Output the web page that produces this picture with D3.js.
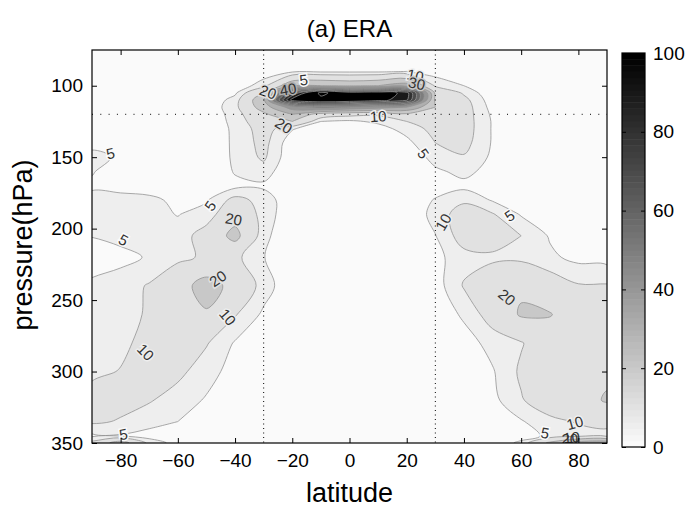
<!DOCTYPE html>
<html>
<head>
<meta charset="utf-8">
<script src="https://cdn.jsdelivr.net/npm/d3@7"></script>
<style>
  body { margin: 0; background: #fff; }
  svg { font-family: "Liberation Sans", Arial, Helvetica, sans-serif; }
</style>
</head>
<body>
<div id="chart"></div>
<script>

// grid of the field: one column per latitude, one row per pressure level
var lats = [-90, -80, -70, -60, -50, -40, -30, -20, -10, 0, 10, 20, 30, 40, 50, 60, 70, 80, 90];
var pLevels = [75, 90, 100, 105, 110, 115, 120, 125, 130, 140, 150, 160, 170, 180, 190, 205, 220, 240, 260, 280, 300, 320, 335, 345, 350];

// values (rows follow pLevels, columns follow lats)
var freq = [
  [0,0,0,0,0,0,0.5,1,1,1,1,1,0.5,0,0,0,0,0,0],
  [0,0,0,0,0,0,1.5,4,4,4,4,5,2.5,0.5,0,0,0,0,0],
  [0,0,0,0,0,1,8,28,30,28,30,35,9,5,0,0,0,0,0],
  [0,0,0,0,0.5,4,20,80,124,108,110,95,18,9,1,0,0,0,0],
  [0,0,0,0,1,7,28,105,115,112,105,92,18,12,2,0,0,0,0],
  [0,0,0,0,1.5,8,25,45,55,50,45,40,20,13,3,0,0,0,0],
  [0,0,0,0,1.5,7,18,30,15,12,11,18,15,13,4,0,0,0,0],
  [0,0,0,0,1.5,6.5,15,20,5,4,6,10,13,13,4.5,0,0,0,0],
  [0,0,0,0,1.5,6,13,5.5,2,1,3,7,12,13,4.5,0,0,0,0],
  [3,1,0,0,1,6,12,1.5,0,0,1,3.5,10,12,4.5,0,0,0,0],
  [7,4,0,0,0.5,6,11,1,0,0,0,1,7,9.5,4,0,0,0,0],
  [5.2,3.5,0,0,0,5.5,7.5,0.5,0,0,0,0.5,4,6.5,3,0,0,0,0],
  [4.5,4,4,3,2,3.5,4,0.5,0,0,0,0,2,3.5,1.5,0.5,0,0,0],
  [6,6,5.5,4.5,4.5,12,8,1,0,0,0,0.5,5.5,9,4.5,1,0.5,0,0],
  [7,7,6.5,4.8,7,16,8,1,0,0,0,0.5,7,13,10.5,4.5,1,0,0],
  [5.2,6.5,7,7,13,23,6.5,0.5,0,0,0,0.5,4.8,13,13,10,4.5,2,1],
  [2.5,3.5,5.5,8.5,11,11.5,5.2,0.5,0,0,0,0.5,3.5,8,9,8.5,6,3.5,3],
  [6,7.5,10.5,16,24,17,7.5,1,0,0,0,0.5,2.5,10.5,14,18.5,14,10.5,10.5],
  [7.5,8.5,10.5,14,19,10.5,4,0.5,0,0,0,0,1,6,13,21,20.5,15,14],
  [8,9,11.5,13,10.5,4.5,1.5,0,0,0,0,0,0.5,2.5,7,9.5,15,15,14],
  [9,10.2,12,11.5,7,3,0.5,0,0,0,0,0,0,1,4.5,11,16,16,18],
  [12,12,10.5,7.5,4.5,1.5,0,0,0,0,0,0,0,0.5,3.5,9.5,14,16,21],
  [11,9.5,7,5,2.5,0.5,0,0,0,0,0,0,0,0,1.5,4.5,8.5,10.5,12],
  [4,4.5,3,2,1,0,0,0,0,0,0,0,0,0,1,3,6,8,8],
  [12,25,8,3,1,0,0,0,0,0,0,0,0,0,2,6,22,35,38]
];

var contourLevels = [5, 10, 20, 30, 40, 50, 60, 70, 80, 90, 100, 120];

// inline contour labels: level, latitude, pressure, rotation, halo (1/0)
var labelSpots = [
  [5, -16, 96, -8, 1], [20, -28.5, 104.5, 20, 1], [40, -21.5, 102.5, -10, 1], [20, -23, 128, 32, 1],
  [10, 10, 121.5, -4, 1], [10, 23, 93, 12, 1], [30, 23.5, 98.5, 12, 1], [5, 25.8, 147.5, 55, 1],
  [5, -83.5, 147.5, -12, 1], [5, -48.6, 184, -55, 1], [5, -79, 208, 28, 1], [20, -40.5, 193.5, 10, 1],
  [20, -46, 235, -35, 1], [10, -42.6, 262, 50, 1], [10, -71.3, 286.5, 45, 1], [5, -79, 344, -10, 1],
  [10, 32.8, 195.5, -60, 1], [5, 56, 191, -35, 1], [20, 55, 248, 40, 1], [10, 78.8, 336, -15, 1],
  [5, 68.3, 343, 10, 1], [20, 77, 346.8, 0, 0], [10, 77.6, 346.2, -5, 0]
];

var xTicks = [-80, -60, -40, -20, 0, 20, 40, 60, 80];
var yTicks = [100, 150, 200, 250, 300, 350];
var cbTicks = [0, 20, 40, 60, 80, 100];

var W = 696, H = 508;
var plotL = 92, plotR = 607, plotT = 50, plotB = 443;

var svg = d3.select("#chart").append("svg")
    .attr("width", W)
    .attr("height", H);

var x = d3.scaleLinear().domain([-90, 90]).range([plotL, plotR]);
var y = d3.scaleLinear().domain([75, 350]).range([plotT, plotB]);

// grid index -> data coordinate (value i sits at i + 0.5 in contour space)
var colToLat = d3.scaleLinear().domain(d3.range(lats.length)).range(lats);
var rowToP = d3.scaleLinear().domain(d3.range(pLevels.length)).range(pLevels);

function shade(v) {
  var t = Math.max(0, Math.min(1, v / 100));
  return d3.interpolateRgb("#fafafa", "#000000")(t);
}

svg.append("clipPath").attr("id", "plotclip")
  .append("rect")
    .attr("x", plotL).attr("y", plotT)
    .attr("width", plotR - plotL).attr("height", plotB - plotT);

var plot = svg.append("g").attr("clip-path", "url(#plotclip)");

plot.append("rect")
    .attr("x", plotL).attr("y", plotT)
    .attr("width", plotR - plotL).attr("height", plotB - plotT)
    .style("fill", shade(0));

var contours = d3.contours()
    .size([lats.length, pLevels.length])
    .thresholds(contourLevels)
    (freq.flat());

var ringLine = d3.line()
    .x(function(d) { return x(colToLat(d[0] - 0.5)); })
    .y(function(d) { return y(rowToP(d[1] - 0.5)); })
    .curve(d3.curveCatmullRomClosed.alpha(0.5));

function contourPath(c) {
  return c.coordinates.map(function(poly) {
    return poly.map(function(ring) { return ringLine(ring.slice(0, -1)); }).join("");
  }).join("");
}

// filled bands
plot.append("g")
  .selectAll("path")
  .data(contours)
  .enter().append("path")
    .attr("d", contourPath)
    .attr("fill-rule", "evenodd")
    .style("fill", function(d) { return shade(d.value); });

// contour lines
plot.append("g")
  .selectAll("path")
  .data(contours)
  .enter().append("path")
    .attr("d", contourPath)
    .style("fill", "none")
    .style("stroke", "#939393")
    .style("stroke-width", 0.8);

// contour labels
plot.append("g")
  .selectAll("text")
  .data(labelSpots)
  .enter().append("text")
    .attr("transform", function(d) {
      return "translate(" + x(d[1]) + "," + y(d[2]) + ") rotate(" + d[3] + ")";
    })
    .attr("text-anchor", "middle")
    .attr("dy", "0.35em")
    .style("font-size", "15px")
    .style("fill", "#333")
    .style("stroke", function(d) {
      var i = contourLevels.indexOf(d[0]);
      return shade(i > 0 ? contourLevels[i - 1] : 0);
    })
    .style("stroke-width", function(d) { return d[4] ? 3 : 0; })
    .style("paint-order", "stroke")
    .text(function(d) { return d[0]; });

// dotted reference lines
plot.selectAll(".vref")
  .data([-30, 30])
  .enter().append("line")
    .attr("class", "vref")
    .attr("x1", function(d) { return x(d); })
    .attr("x2", function(d) { return x(d); })
    .attr("y1", plotT).attr("y2", plotB)
    .style("stroke", "#000")
    .style("stroke-width", 1)
    .style("stroke-dasharray", "1,3.5");

plot.append("line")
    .attr("x1", plotL).attr("x2", plotR)
    .attr("y1", y(120)).attr("y2", y(120))
    .style("stroke", "#000")
    .style("stroke-width", 1)
    .style("stroke-dasharray", "1,7.3");

// axes (ticks point inward on all four sides)
var xAxis = d3.axisBottom(x).tickValues(xTicks).tickSizeInner(-5).tickSizeOuter(0).tickPadding(11);
var yAxis = d3.axisLeft(y).tickValues(yTicks).tickSizeInner(-5).tickSizeOuter(0).tickPadding(9);

svg.append("g").attr("transform", "translate(0," + plotB + ")").call(xAxis);
svg.append("g").attr("transform", "translate(" + plotL + ",0)").call(yAxis);
svg.append("g").attr("transform", "translate(0," + plotT + ")")
  .call(d3.axisTop(x).tickValues(xTicks).tickSizeInner(-5).tickSizeOuter(0).tickFormat(""));
svg.append("g").attr("transform", "translate(" + plotR + ",0)")
  .call(d3.axisRight(y).tickValues(yTicks).tickSizeInner(-5).tickSizeOuter(0).tickFormat(""));

svg.append("rect")
    .attr("x", plotL).attr("y", plotT)
    .attr("width", plotR - plotL).attr("height", plotB - plotT)
    .style("fill", "none")
    .style("stroke", "#000")
    .style("stroke-width", 1.2);

// colorbar
var cbLeft = 622, cbRight = 645, cbTop = 53, cbBottom = 447;
var cy = d3.scaleLinear().domain([0, 100]).range([cbBottom, cbTop]);
var steps = d3.range(64);

svg.append("g")
  .selectAll("rect")
  .data(steps)
  .enter().append("rect")
    .attr("x", cbLeft)
    .attr("y", function(i) { return cy((i + 1) * 100 / 64); })
    .attr("width", cbRight - cbLeft)
    .attr("height", function(i) { return cy(i * 100 / 64) - cy((i + 1) * 100 / 64) + 0.5; })
    .style("fill", function(i) { return shade(i * 100 / 63); });

var cbAxis = d3.axisRight(cy).tickValues(cbTicks).tickSizeInner(-4).tickSizeOuter(0).tickPadding(8);
svg.append("g").attr("transform", "translate(" + cbRight + ",0)").call(cbAxis);
svg.append("g").attr("transform", "translate(" + cbLeft + ",0)")
  .call(d3.axisLeft(cy).tickValues(cbTicks).tickSizeInner(-4).tickSizeOuter(0).tickFormat(""));

svg.selectAll(".domain").remove();
svg.selectAll(".tick line").style("stroke", "#000");
svg.selectAll(".tick text")
    .style("font-size", "19px")
    .style("font-family", "'Liberation Sans', Arial, sans-serif")
    .style("fill", "#000");

svg.append("rect")
    .attr("x", cbLeft).attr("y", cbTop)
    .attr("width", cbRight - cbLeft).attr("height", cbBottom - cbTop)
    .style("fill", "none")
    .style("stroke", "#000")
    .style("stroke-width", 1.2);

// titles
svg.append("text")
    .attr("x", x(0)).attr("y", 37)
    .attr("text-anchor", "middle")
    .style("font-size", "24px")
    .text("(a) ERA");

svg.append("text")
    .attr("x", x(0)).attr("y", 502)
    .attr("text-anchor", "middle")
    .style("font-size", "27px")
    .text("latitude");

svg.append("text")
    .attr("transform", "translate(32," + 245 + ") rotate(-90)")
    .attr("text-anchor", "middle")
    .style("font-size", "27px")
    .text("pressure(hPa)");

</script>
</body>
</html>
